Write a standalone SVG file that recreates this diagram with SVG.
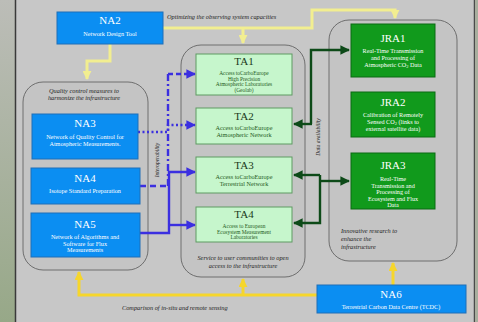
<svg xmlns="http://www.w3.org/2000/svg" width="478" height="322" viewBox="0 0 478 322">
<defs>
<linearGradient id="side" x1="0" y1="0" x2="0" y2="1"><stop offset="0" stop-color="#bcbdb8"/><stop offset="1" stop-color="#97a888"/></linearGradient>
<marker id="ay" viewBox="0 0 10 10" refX="9" refY="5" markerWidth="3" markerHeight="3" orient="auto"><path d="M0,0 L10,5 L0,10 z" fill="#f2ee90"/></marker>
<marker id="ay2" viewBox="0 0 10 10" refX="9" refY="5" markerWidth="3" markerHeight="3" orient="auto"><path d="M0,0 L10,5 L0,10 z" fill="#f6d62c"/></marker>
<marker id="ab" viewBox="0 0 10 10" refX="9" refY="5" markerWidth="4" markerHeight="4" orient="auto"><path d="M0,0 L10,5 L0,10 z" fill="#3b2fe0"/></marker>
<marker id="ag" viewBox="0 0 10 10" refX="9" refY="5" markerWidth="4" markerHeight="4" orient="auto"><path d="M0,0 L10,5 L0,10 z" fill="#0d4a18"/></marker>
<style>
.cont{fill:#c4c4c4;stroke:#6e6e6e;stroke-width:1}
.na{fill:#0b8ef2;stroke:#1f6fb8;stroke-width:1}
.ta{fill:#c6f6cc;stroke:#5e9a62;stroke-width:1}
.jra{fill:#119a1c;stroke:#0a6a12;stroke-width:1}
text{font-family:"Liberation Serif","DejaVu Serif",serif;text-anchor:middle}
.hw{fill:#ffffff;font-size:11px}
.bw{fill:#ffffff;font-size:6.2px}
.hd{fill:#1a3a1a;font-size:11px}
.bd{fill:#1f5a22;font-size:6.2px}
.bs{fill:#1f5a22;font-size:5.4px}
.it{fill:#222;font-size:6.3px;font-style:italic}
.yl{fill:none;stroke:#f2ee90;stroke-width:3}
.y2{fill:none;stroke:#f6d62c;stroke-width:3}
.bl{fill:none;stroke:#3b2fe0;stroke-width:2.4}
.gr{fill:none;stroke:#0d4a18;stroke-width:2.4}
</style>
</defs>
<rect x="0" y="0" width="478" height="322" fill="#c7c7c7"/>
<rect x="0" y="0" width="15" height="322" fill="url(#side)"/>
<line x1="15.5" y1="0" x2="15.5" y2="322" stroke="#3a3a3a" stroke-width="1.5"/>
<line x1="474.5" y1="0" x2="474.5" y2="322" stroke="#4a4a4a" stroke-width="1.5"/>
<rect x="475" y="0" width="3" height="322" fill="#a8ae9e"/>

<g id="containers">
<rect class="cont" x="23" y="82" width="125" height="188" rx="20"/>
<rect class="cont" x="181" y="45" width="124" height="232" rx="20"/>
<rect class="cont" x="329" y="20" width="128" height="241" rx="20"/>
<text class="it" x="84" y="93">Quality control measures to</text>
<text class="it" x="84" y="100">harmonize the infrastructure</text>
<text class="it" x="243" y="260">Service to user communities to open</text>
<text class="it" x="243" y="268">access to the infrastructure</text>
<text class="it" x="341" y="233" style="text-anchor:start">Innovative research to</text>
<text class="it" x="341" y="241" style="text-anchor:start">enhance the</text>
<text class="it" x="341" y="249" style="text-anchor:start">infrastructure</text>
</g>

<g id="connectors">
<path class="yl" d="M163,28 H312 V10 H395 V18" marker-end="url(#ay)"/>
<path class="yl" d="M243,28 V43" marker-end="url(#ay)"/>
<path class="yl" d="M110,44 V61 H87 V79" marker-end="url(#ay)"/>
<path class="y2" d="M317,295 H79 V272" marker-end="url(#ay2)"/>
<path class="y2" d="M243,295 V279" marker-end="url(#ay2)"/>
<path class="y2" d="M393,285 V263" marker-end="url(#ay2)"/>
<path class="bl" d="M140,186 H168" stroke-dasharray="6,4"/>
<path class="bl" d="M168,186 V74" stroke-dasharray="7,3,2,3"/>
<path class="bl" d="M168,74 H195" stroke-dasharray="5,3" marker-end="url(#ab)"/>
<path class="bl" d="M138,132 H168 V125 H195" stroke-dasharray="2,2.5" marker-end="url(#ab)"/>
<path class="bl" d="M140,233 H169 V172 H195" marker-end="url(#ab)"/>
<path class="bl" d="M169,225 H195" marker-end="url(#ab)"/>
<path class="gr" d="M311,124 V50 H349" marker-end="url(#ag)"/>
<path class="gr" d="M312,124 H294" marker-end="url(#ag)"/>
<path class="gr" d="M320,175 H294" marker-end="url(#ag)"/>
<path class="gr" d="M320,175 V223 H294" marker-end="url(#ag)"/>
<path class="gr" d="M320,181 H349" marker-end="url(#ag)"/>
<text class="it" transform="translate(159,160) rotate(-90)" style="font-size:5.5px">Interoperability</text>
<text class="it" transform="translate(320,137) rotate(-90)" style="font-size:5.5px">Data availability</text>
<text class="it" x="167" y="19" style="text-anchor:start">Optimizing the observing system capacities</text>
<text class="it" x="122" y="310" style="text-anchor:start">Comparison of in-situ and remote sensing</text>
</g>

<g id="NA2"><rect class="na" x="57" y="12" width="106" height="32"/><text class="hw" x="110" y="24">NA2</text><text class="bw" x="110" y="36">Network Design Tool</text></g>
<g id="NA3"><rect class="na" x="32" y="114" width="106" height="45"/><text class="hw" x="85" y="127">NA3</text><text class="bw" x="85" y="139">Network of Quality Control for</text><text class="bw" x="85" y="146">Atmospheric Measurements.</text></g>
<g id="NA4"><rect class="na" x="31" y="168" width="109" height="36"/><text class="hw" x="85" y="182">NA4</text><text class="bw" x="85" y="193">Isotope Standard Preparation</text></g>
<g id="NA5"><rect class="na" x="31" y="213" width="109" height="44"/><text class="hw" x="85" y="228">NA5</text><text class="bw" x="85" y="239">Network of Algorithms and</text><text class="bw" x="85" y="245.5">Software for Flux</text><text class="bw" x="85" y="252">Measurements</text></g>
<g id="NA6"><rect class="na" x="317" y="285" width="149" height="28"/><text class="hw" x="391" y="298">NA6</text><text class="bw" x="391" y="309">Terrestrial Carbon Data Centre (TCDC)</text></g>

<g id="TA1"><rect class="ta" x="196" y="54" width="96" height="41"/><text class="hd" x="244" y="65">TA1</text><text class="bs" x="244" y="75">Access toCarboEurope</text><text class="bs" x="244" y="80.5">High Precision</text><text class="bs" x="244" y="86">Atmospheric Laboratories</text><text class="bs" x="244" y="91.5">(Geolab)</text></g>
<g id="TA2"><rect class="ta" x="196" y="108" width="96" height="36"/><text class="hd" x="244" y="120">TA2</text><text class="bd" x="244" y="130">Access toCarboEurope</text><text class="bd" x="244" y="136.5">Atmospheric Network</text></g>
<g id="TA3"><rect class="ta" x="196" y="157" width="96" height="36"/><text class="hd" x="244" y="169">TA3</text><text class="bd" x="244" y="179">Access toCarboEurope</text><text class="bd" x="244" y="185.5">Terrestrial Network</text></g>
<g id="TA4"><rect class="ta" x="196" y="207" width="96" height="35"/><text class="hd" x="244" y="218">TA4</text><text class="bs" x="244" y="228">Access to European</text><text class="bs" x="244" y="233.5">Ecosystem Measurement</text><text class="bs" x="244" y="239">Laboratories</text></g>

<g id="JRA1"><rect class="jra" x="351" y="24" width="84" height="53"/><text class="hw" x="393" y="42">JRA1</text><text class="bw" x="393" y="53">Real-Time Transmission</text><text class="bw" x="393" y="60">and Processing of</text><text class="bw" x="393" y="67">Atmospheric CO<tspan font-size="4.5px" dy="1">2</tspan><tspan dy="-1"> Data</tspan></text></g>
<g id="JRA2"><rect class="jra" x="351" y="92" width="84" height="45"/><text class="hw" x="393" y="106">JRA2</text><text class="bw" x="393" y="117">Calibration of Remotely</text><text class="bw" x="393" y="124">Sensed CO<tspan font-size="4.5px" dy="1">2</tspan><tspan dy="-1"> (links to</tspan></text><text class="bw" x="393" y="131">external satellite data)</text></g>
<g id="JRA3"><rect class="jra" x="351" y="153" width="84" height="56"/><text class="hw" x="393" y="169">JRA3</text><text class="bw" x="393" y="181">Real-Time</text><text class="bw" x="393" y="187.5">Transmission and</text><text class="bw" x="393" y="194">Processing of</text><text class="bw" x="393" y="200.5">Ecosystem and Flux</text><text class="bw" x="393" y="207">Data</text></g>
</svg>
